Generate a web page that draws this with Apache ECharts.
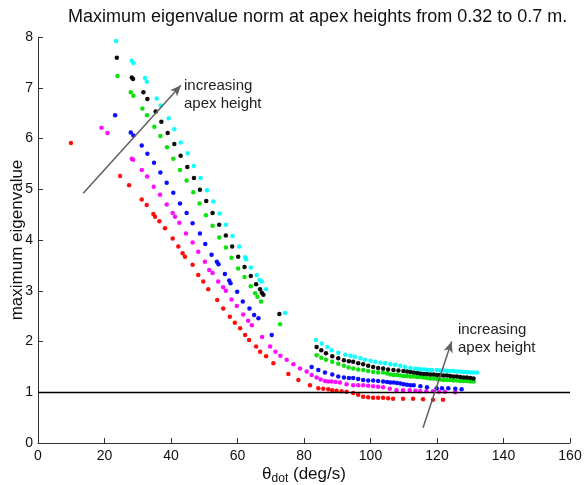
<!DOCTYPE html>
<html>
<head>
<meta charset="utf-8">
<script src="https://cdn.jsdelivr.net/npm/echarts@6/dist/echarts.min.js"></script>
<style>
  html, body { margin: 0; padding: 0; background: #ffffff; }
  #chart { width: 586px; height: 485px; }
</style>
</head>
<body>
<div id="chart"></div>
<script>
// Axis ticks
const xTicks = [0, 20, 40, 60, 80, 100, 120, 140, 160];
const yTicks = [0, 1, 2, 3, 4, 5, 6, 7, 8];

// Maximum eigenvalue vs. theta_dot, one series per apex height (low to high)
const apexRed = [
  [9.9, 5.91], [24.7, 5.26], [27.4, 5.08], [31.2, 4.80], [32.7, 4.69], [34.7, 4.51], [35.2, 4.46],
  [36.5, 4.37], [38.2, 4.23], [40.5, 4.03], [42.2, 3.87], [43.5, 3.74], [44.2, 3.67], [46.5, 3.51],
  [48.2, 3.31], [49.7, 3.18], [51.2, 3.03], [53.9, 2.82], [55.7, 2.65], [57.7, 2.49], [59.2, 2.37],
  [60.8, 2.26], [62.3, 2.13], [63.5, 2.03], [65.6, 1.90], [66.8, 1.80], [68.6, 1.71], [70.8, 1.57],
  [75.3, 1.36], [78.3, 1.24], [81.8, 1.14], [84.3, 1.08], [85.8, 1.07], [87.3, 1.06], [88.5, 1.04],
  [89.8, 1.03], [91.3, 1.02], [92.8, 1.01], [94.8, 0.985], [96.3, 0.95], [97.8, 0.91], [99.3, 0.90],
  [100.8, 0.89], [102.3, 0.89], [103.8, 0.89], [105.3, 0.88], [106.8, 0.87], [109.8, 0.87],
  [112.8, 0.87], [115.8, 0.86], [118.8, 0.85], [121.8, 0.85]
];
const apexMagenta = [
  [19.1, 6.21], [20.9, 6.11], [28.2, 5.60], [28.6, 5.58], [31.2, 5.38], [32.8, 5.25], [34.8, 5.05],
  [36.7, 4.89], [38.7, 4.70], [40.5, 4.53], [41.2, 4.46], [42.5, 4.34], [44.5, 4.13], [46.5, 3.95],
  [48.2, 3.77], [50.2, 3.57], [51.5, 3.41], [52.5, 3.35], [54.2, 3.18], [55.7, 3.07], [56.5, 3.00],
  [58.2, 2.83], [59.8, 2.70], [61.7, 2.53], [63.2, 2.41], [64.3, 2.32], [67.4, 2.09], [69.8, 1.90],
  [71.4, 1.80], [72.9, 1.72], [74.8, 1.64], [76.8, 1.55], [78.8, 1.47], [80.8, 1.41], [82.3, 1.34],
  [83.8, 1.29], [85.0, 1.25], [86.3, 1.22], [87.3, 1.21], [88.3, 1.21], [89.5, 1.20], [90.8, 1.19],
  [92.8, 1.16], [94.8, 1.14], [96.3, 1.14], [97.8, 1.14], [99.3, 1.13], [100.8, 1.12], [102.3, 1.11],
  [103.8, 1.10], [105.8, 1.07], [107.8, 1.04], [109.8, 1.04], [111.8, 1.04], [113.5, 1.03],
  [114.9, 1.02], [116.8, 1.02], [118.8, 1.02], [120.6, 1.01], [122.4, 1.01], [125.5, 1.00]
];
const apexBlue = [
  [23.2, 6.46], [27.9, 6.12], [28.7, 6.06], [31.2, 5.86], [32.9, 5.70], [34.9, 5.52], [36.8, 5.33],
  [38.7, 5.13], [40.7, 4.93], [42.7, 4.72], [44.7, 4.53], [46.5, 4.33], [48.7, 4.13], [50.3, 3.92],
  [52.2, 3.71], [53.8, 3.57], [54.3, 3.52], [56.2, 3.33], [57.5, 3.20], [57.9, 3.15], [59.9, 2.98],
  [61.6, 2.79], [63.6, 2.65], [65.0, 2.52], [66.3, 2.46], [70.3, 2.13], [82.3, 1.50], [84.3, 1.44],
  [86.3, 1.39], [88.5, 1.35], [90.3, 1.31], [92.0, 1.29], [93.5, 1.28], [94.8, 1.28], [96.3, 1.26],
  [97.8, 1.24], [99.3, 1.23], [100.8, 1.23], [102.3, 1.22], [103.8, 1.21], [105.0, 1.20],
  [106.0, 1.19], [107.0, 1.19], [108.0, 1.18], [109.0, 1.17], [110.0, 1.16], [111.0, 1.15],
  [112.0, 1.14], [113.0, 1.14], [115.0, 1.12], [117.0, 1.10], [119.9, 1.08], [121.5, 1.08],
  [123.4, 1.08], [125.5, 1.07], [127.4, 1.06]
];
const apexGreen = [
  [23.9, 7.23], [27.9, 6.91], [28.7, 6.84], [31.4, 6.59], [32.8, 6.46], [35.0, 6.23], [36.8, 6.05],
  [38.8, 5.83], [40.7, 5.60], [42.7, 5.38], [44.7, 5.17], [46.7, 4.94], [48.6, 4.72], [50.5, 4.49],
  [52.5, 4.28], [54.5, 4.05], [56.5, 3.85], [58.2, 3.65], [60.2, 3.44], [62.1, 3.27], [64.0, 3.09],
  [65.3, 2.95], [66.0, 2.88], [67.1, 2.79], [72.8, 2.34], [83.8, 1.73], [85.2, 1.68], [86.6, 1.64],
  [88.5, 1.60], [90.3, 1.56], [92.0, 1.52], [93.4, 1.49], [94.8, 1.47], [96.3, 1.45], [97.8, 1.44],
  [99.3, 1.42], [100.8, 1.40], [102.3, 1.39], [103.8, 1.39], [105.0, 1.37], [106.0, 1.35],
  [107.0, 1.34], [108.0, 1.34], [109.0, 1.33], [110.0, 1.32], [111.0, 1.32], [112.0, 1.31],
  [113.0, 1.31], [114.0, 1.30], [115.0, 1.30], [116.0, 1.29], [117.0, 1.28], [118.0, 1.27],
  [119.0, 1.27], [120.0, 1.26], [121.0, 1.25], [122.0, 1.24], [123.0, 1.24], [124.0, 1.24],
  [125.0, 1.23], [126.0, 1.23], [127.0, 1.22], [128.0, 1.22], [129.0, 1.22], [130.0, 1.21],
  [131.0, 1.21]
];
const apexBlack = [
  [23.7, 7.59], [28.2, 7.20], [28.6, 7.17], [31.7, 6.91], [32.9, 6.78], [35.4, 6.53], [37.1, 6.33],
  [39.0, 6.11], [41.0, 5.89], [42.9, 5.66], [44.9, 5.44], [46.9, 5.22], [48.7, 4.99], [50.6, 4.77],
  [52.5, 4.53], [54.5, 4.30], [56.5, 4.09], [58.4, 3.87], [60.2, 3.67], [62.1, 3.47], [64.0, 3.29],
  [65.6, 3.13], [66.8, 3.03], [67.3, 2.96], [67.8, 2.92], [72.6, 2.54], [83.8, 1.89], [85.2, 1.83],
  [86.6, 1.77], [88.5, 1.71], [90.3, 1.67], [92.0, 1.63], [93.5, 1.61], [94.8, 1.60], [96.3, 1.57],
  [97.8, 1.55], [99.3, 1.52], [100.8, 1.50], [102.3, 1.48], [103.8, 1.47], [105.3, 1.45],
  [106.9, 1.44], [108.4, 1.43], [109.9, 1.42], [111.0, 1.41], [112.0, 1.40], [113.0, 1.39],
  [114.0, 1.38], [115.0, 1.37], [116.0, 1.36], [117.0, 1.36], [118.0, 1.35], [119.0, 1.35],
  [120.0, 1.34], [121.0, 1.34], [122.0, 1.33], [123.0, 1.33], [124.0, 1.32], [125.0, 1.31],
  [126.0, 1.31], [127.0, 1.30], [128.0, 1.29], [129.0, 1.29], [130.0, 1.28], [131.0, 1.27]
];
const apexCyan = [
  [23.5, 7.92], [28.2, 7.53], [28.7, 7.49], [32.2, 7.19], [32.7, 7.12], [35.7, 6.79], [36.9, 6.65],
  [39.3, 6.40], [41.0, 6.18], [42.9, 5.92], [45.0, 5.71], [46.9, 5.46], [48.9, 5.22], [50.8, 4.98],
  [52.7, 4.76], [54.6, 4.52], [56.5, 4.30], [58.5, 4.08], [60.5, 3.87], [62.3, 3.66], [62.6, 3.62],
  [64.0, 3.46], [65.8, 3.31], [66.6, 3.21], [67.3, 3.18], [68.6, 3.03], [74.3, 2.56], [83.6, 2.03],
  [85.3, 1.96], [87.0, 1.89], [88.3, 1.83], [90.3, 1.78], [92.4, 1.74], [94.0, 1.72], [95.3, 1.70],
  [97.0, 1.67], [98.3, 1.64], [100.0, 1.62], [101.4, 1.60], [103.0, 1.58], [104.4, 1.57],
  [106.0, 1.55], [107.4, 1.54], [109.0, 1.52], [110.4, 1.50], [112.0, 1.48], [113.4, 1.47],
  [114.5, 1.46], [115.5, 1.45], [116.5, 1.45], [117.5, 1.44], [118.5, 1.44], [119.9, 1.44],
  [121.0, 1.43], [122.0, 1.43], [123.0, 1.42], [124.0, 1.42], [125.0, 1.42], [126.0, 1.41],
  [127.0, 1.41], [128.0, 1.40], [129.0, 1.40], [130.0, 1.39], [131.0, 1.39], [132.0, 1.39]
];

// Reference level and annotation arrows (data space)
const unityLevel = 1;
const arrowLeft = [[13.6, 4.92], [43.0, 7.05]];
const arrowRight = [[115.8, 0.30], [124.4, 2.0]];
const noteLeft = [43.9, 6.86];
const noteRight = [126.3, 2.05];
const noteText = ['increasing', 'apex height'];

const chart = echarts.init(document.getElementById('chart'), null, { renderer: 'canvas' });
const FONT = '"Liberation Sans", Arial, Helvetica, sans-serif';

function scatter(name, data, color) {
  return {
    name, type: 'scatter', data, symbol: 'circle', symbolSize: 4.5,
    itemStyle: { color, opacity: 0.95 }, silent: true, animation: false
  };
}

const arrowStyle = { color: '#606060', width: 1.5, type: 'solid' };
function arrowPair(seg) {
  return [
    { coord: seg[0], symbol: 'none', lineStyle: arrowStyle },
    { coord: seg[1], symbol: 'arrow', symbolSize: [7, 11] }
  ];
}

const series = [
  scatter('red', apexRed, '#ff0000'),
  scatter('magenta', apexMagenta, '#ff00ff'),
  scatter('blue', apexBlue, '#0000ff'),
  scatter('green', apexGreen, '#00e000'),
  scatter('black', apexBlack, '#000000'),
  scatter('cyan', apexCyan, '#00ffff')
];
series[0].markLine = {
  silent: true, animation: false, symbol: ['none', 'none'],
  label: { show: false },
  lineStyle: { color: '#000', width: 1.4, type: 'solid' },
  data: [{ yAxis: unityLevel }]
};
series[5].markLine = {
  silent: true, animation: false, symbol: ['none', 'arrow'],
  label: { show: false },
  lineStyle: arrowStyle,
  itemStyle: { color: '#404040' },
  data: [arrowPair(arrowLeft), arrowPair(arrowRight)]
};

chart.setOption({
  animation: false,
  backgroundColor: '#ffffff',
  textStyle: { fontFamily: FONT },
  title: {
    text: 'Maximum eigenvalue norm at apex heights from 0.32 to 0.7 m.',
    left: 63, top: 3,
    textStyle: { fontFamily: FONT, fontSize: 18, fontWeight: 'normal', color: '#111' }
  },
  grid: { left: 38, right: 16, top: 37, bottom: 42, containLabel: false, outerBoundsMode: 'none' },
  xAxis: {
    type: 'value', min: xTicks[0], max: xTicks[xTicks.length - 1], interval: 20,
    axisLine: { lineStyle: { color: '#333', width: 1 } },
    axisTick: { inside: true, length: 5, lineStyle: { color: '#333' } },
    splitLine: { show: false },
    axisLabel: { color: '#111', fontSize: 14, margin: 6, fontFamily: FONT },
    name: '{t|θ}{s|dot}{t| (deg/s)}',
    nameLocation: 'middle', nameGap: 20, nameMoveOverlap: false,
    nameTextStyle: {
      color: '#111', fontFamily: FONT,
      rich: {
        t: { fontSize: 17, color: '#111', fontFamily: FONT },
        s: { fontSize: 12, color: '#111', fontFamily: FONT, padding: [10, 0, 0, 0] }
      }
    }
  },
  yAxis: {
    type: 'value', min: yTicks[0], max: yTicks[yTicks.length - 1], interval: 1,
    axisLine: { lineStyle: { color: '#333', width: 1 } },
    axisTick: { inside: true, length: 5, lineStyle: { color: '#333' } },
    splitLine: { show: false },
    axisLabel: { color: '#111', fontSize: 14, margin: 5, fontFamily: FONT },
    name: 'maximum eigenvalue',
    nameLocation: 'middle', nameGap: 12, nameMoveOverlap: false,
    nameTextStyle: { color: '#111', fontSize: 17, fontFamily: FONT }
  },
  series
});

// Annotation text placed at data coordinates
function noteGraphic(pos) {
  const p = chart.convertToPixel({ gridIndex: 0 }, pos);
  return {
    type: 'text', x: p[0], y: p[1],
    style: {
      text: noteText.join('\n'), fill: '#222', font: '15px ' + FONT,
      lineHeight: 18, verticalAlign: 'middle', align: 'left'
    },
    silent: true
  };
}
chart.setOption({ graphic: [noteGraphic(noteLeft), noteGraphic(noteRight)] });
</script>
</body>
</html>
